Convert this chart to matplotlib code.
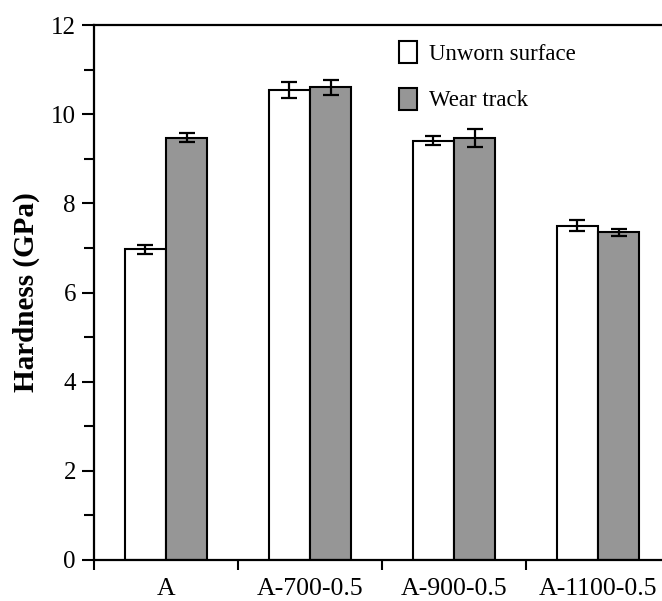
import matplotlib
matplotlib.use("Agg")
import matplotlib.pyplot as plt
import numpy as np
from matplotlib.patches import Patch
from matplotlib.ticker import MultipleLocator

# Samples and measured hardness (GPa)
samples = ["A", "A-700-0.5", "A-900-0.5", "A-1100-0.5"]
unworn = [6.97, 10.55, 9.40, 7.50]
unworn_err = [0.10, 0.18, 0.10, 0.12]
wear = [9.47, 10.60, 9.47, 7.35]
wear_err = [0.10, 0.17, 0.20, 0.08]
series_labels = ["Unworn surface", "Wear track"]

plt.rcParams["font.family"] = ["Liberation Serif", "DejaVu Serif"]

fig = plt.figure(figsize=(6.62, 6.01), dpi=100)
ax = fig.add_axes([94 / 662, 1 - 560 / 601, 576 / 662, 535 / 601])

x = np.arange(len(samples))
w = 0.285
grey = "#969696"
ekw = dict(ecolor="black", elinewidth=1.6, capsize=6, capthick=1.6)

ax.bar(x - w / 2, unworn, w, color="white", edgecolor="black", linewidth=1.5,
       yerr=unworn_err, error_kw=ekw, zorder=2)
ax.bar(x + w / 2, wear, w, color=grey, edgecolor="black", linewidth=1.5,
       yerr=wear_err, error_kw=ekw, zorder=2)

ax.set_xlim(-0.5, len(samples) - 0.5)
ax.set_ylim(0, 12)

# y axis: labelled majors every 2, unlabelled minors in between
ax.yaxis.set_major_locator(MultipleLocator(2))
ax.yaxis.set_minor_locator(MultipleLocator(1))
ax.tick_params(axis="y", which="major", direction="out", length=9, width=1.5,
               labelsize=18, pad=4)
ax.tick_params(axis="y", which="minor", direction="out", length=7, width=1.5)

# x axis: ticks sit between groups, names centred under groups
ax.set_xticks(np.arange(-0.5, len(samples), 1.0))
ax.set_xticklabels([])
ax.set_xticks(x, minor=True)
ax.set_xticklabels(samples, minor=True, fontsize=18.5)
ax.tick_params(axis="x", which="major", direction="out", length=7, width=1.5)
ax.tick_params(axis="x", which="minor", length=0, pad=13)

for side in ["left", "bottom", "top", "right"]:
    ax.spines[side].set_linewidth(1.6)

ax.set_ylabel("Hardness (GPa)", fontsize=21, fontweight="bold", labelpad=8)

handles = [Patch(facecolor="white", edgecolor="black", linewidth=1.5),
           Patch(facecolor=grey, edgecolor="black", linewidth=1.5)]
ax.legend(handles, series_labels, loc="upper left",
          bbox_to_anchor=((399 - 94) / 576, (560 - 41) / 535),
          frameon=False, fontsize=16.5, handlelength=0.8, handleheight=1.1,
          handletextpad=0.5, labelspacing=1.0, borderpad=0, borderaxespad=0)

fig.savefig("out.png", dpi=100)
